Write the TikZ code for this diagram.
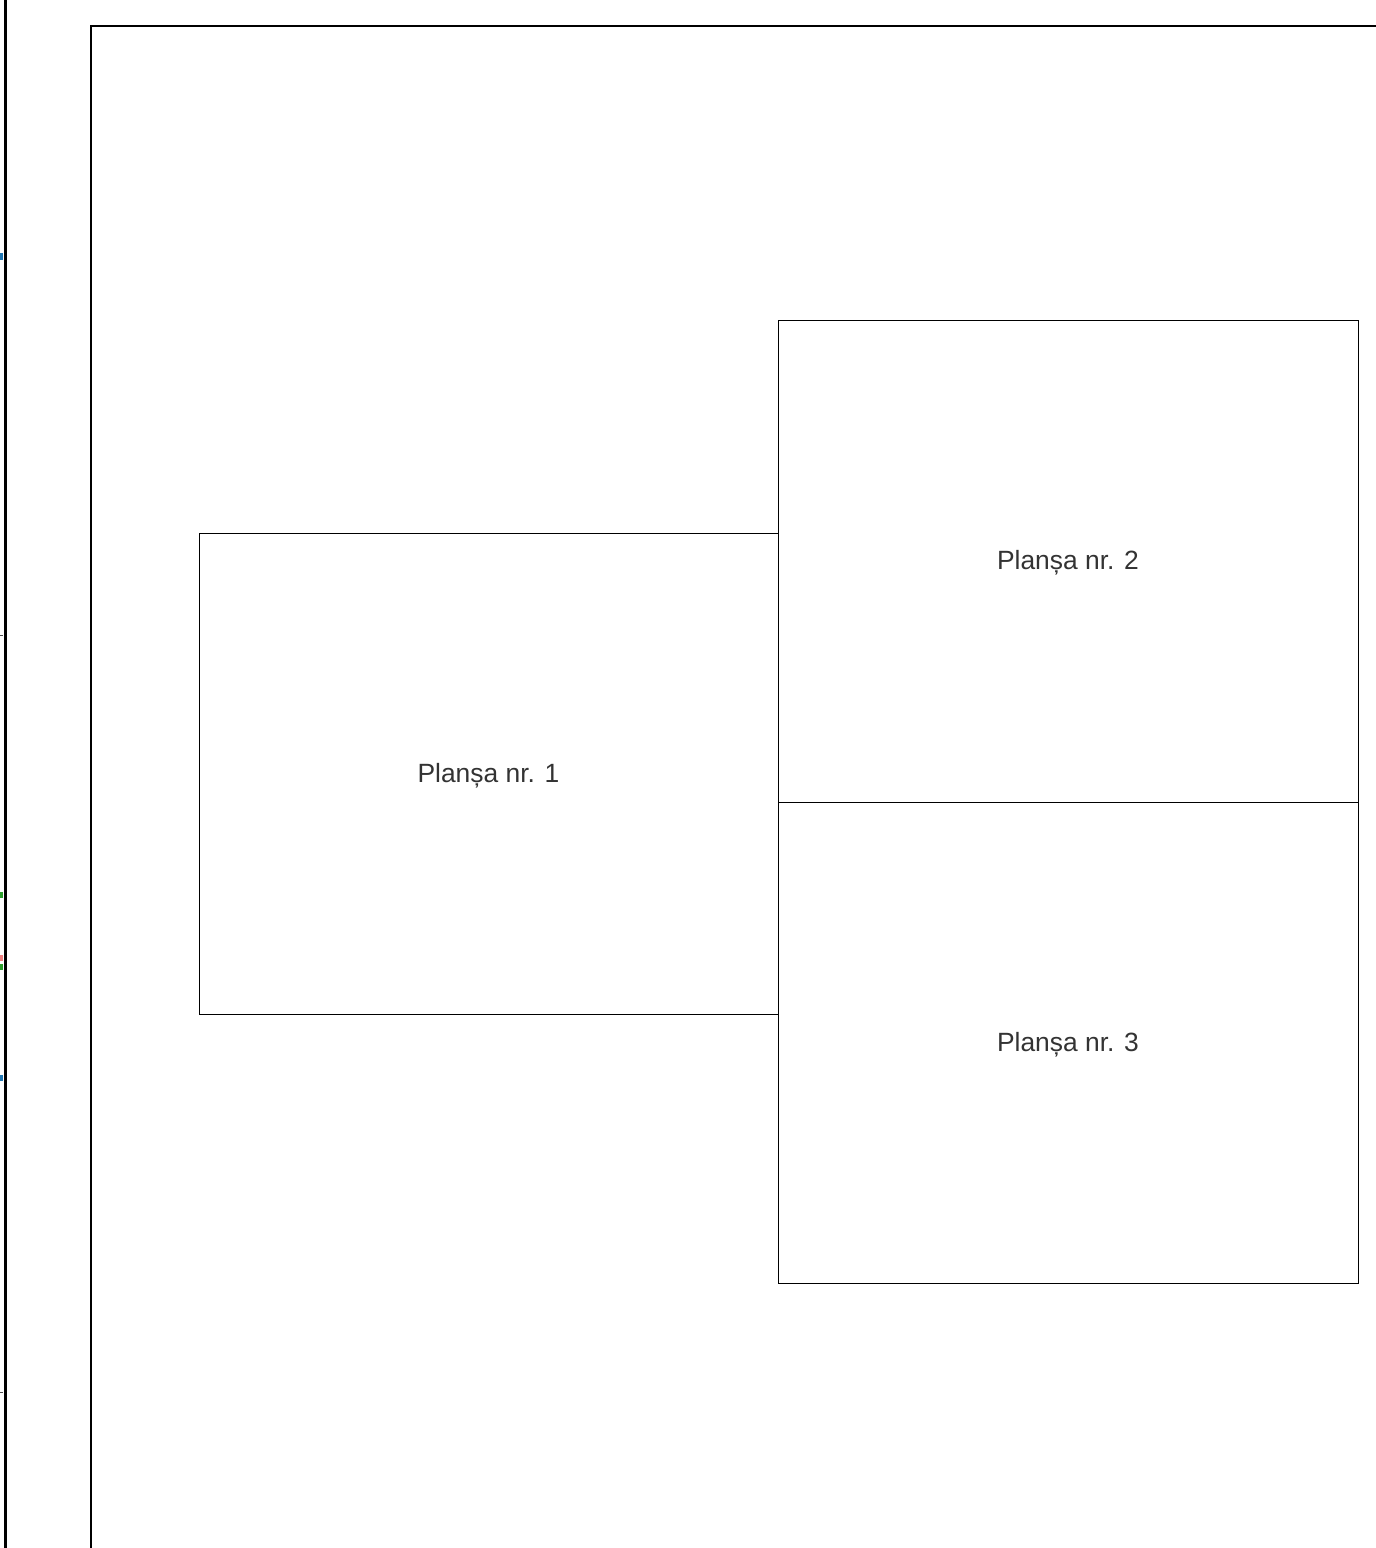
\documentclass[tikz,border=0pt]{standalone}
\usepackage{fontspec}
\setmainfont{Liberation Sans}
\definecolor{txtgray}{HTML}{333333}
\definecolor{tickblue}{HTML}{1F77B4}
\definecolor{tickgreen}{HTML}{2CA02C}
\definecolor{tickpink}{HTML}{F08080}
\begin{document}
\begin{tikzpicture}[x=0.5pt,y=-0.5pt,
  sheet/.style={draw=black,line width=0.5pt,rectangle,inner sep=0pt,
    font=\fontsize{13.2}{15}\selectfont,text=txtgray},
  sheetlabel/.style={font=\fontsize{13.2}{15}\selectfont,text=txtgray,inner sep=0pt},
  tickmark/.style={line width=3pt}]
\useasboundingbox (0,0) rectangle (1376,1548);
\clip (0,0) rectangle (1376,1548);
% left thick line
\draw[line width=1.5pt] (5,-5) -- (5,1560);
% ticks
\draw[tickmark,tickblue,line width=3.5pt] (0,256) -- (3,256);
\draw[line width=0.5pt,black!70] (0,635) -- (3,635);
\draw[tickmark,tickgreen] (0,895) -- (3,895);
\draw[tickmark,tickpink] (0,958) -- (3,958);
\draw[tickmark,tickgreen] (0,967) -- (3,967);
\draw[tickmark,tickblue] (0,1078) -- (3,1078);
\draw[line width=0.5pt,black!70] (0,1392) -- (3,1392);
% outer frame
\draw[line width=1pt] (91,1560) -- (91,26) -- (1390,26);
% sheets
\node[sheet,minimum width=289.5pt,minimum height=240.5pt] (p1) at (488.5,773.5) {};
\node[sheet,minimum width=290pt,minimum height=241pt] (p2) at (1068,561) {};
\node[sheet,minimum width=290pt,minimum height=240.5pt] (p3) at (1068,1042.5) {};
\node[sheetlabel] (t1) at ([yshift=-1pt]p1.center) {Planșa nr. 1};
\node[sheetlabel] (t2) at ([yshift=-1pt]p2.center) {Planșa nr. 2};
\node[sheetlabel] (t3) at ([yshift=-1pt]p3.center) {Planșa nr. 3};
\end{tikzpicture}
\end{document}
